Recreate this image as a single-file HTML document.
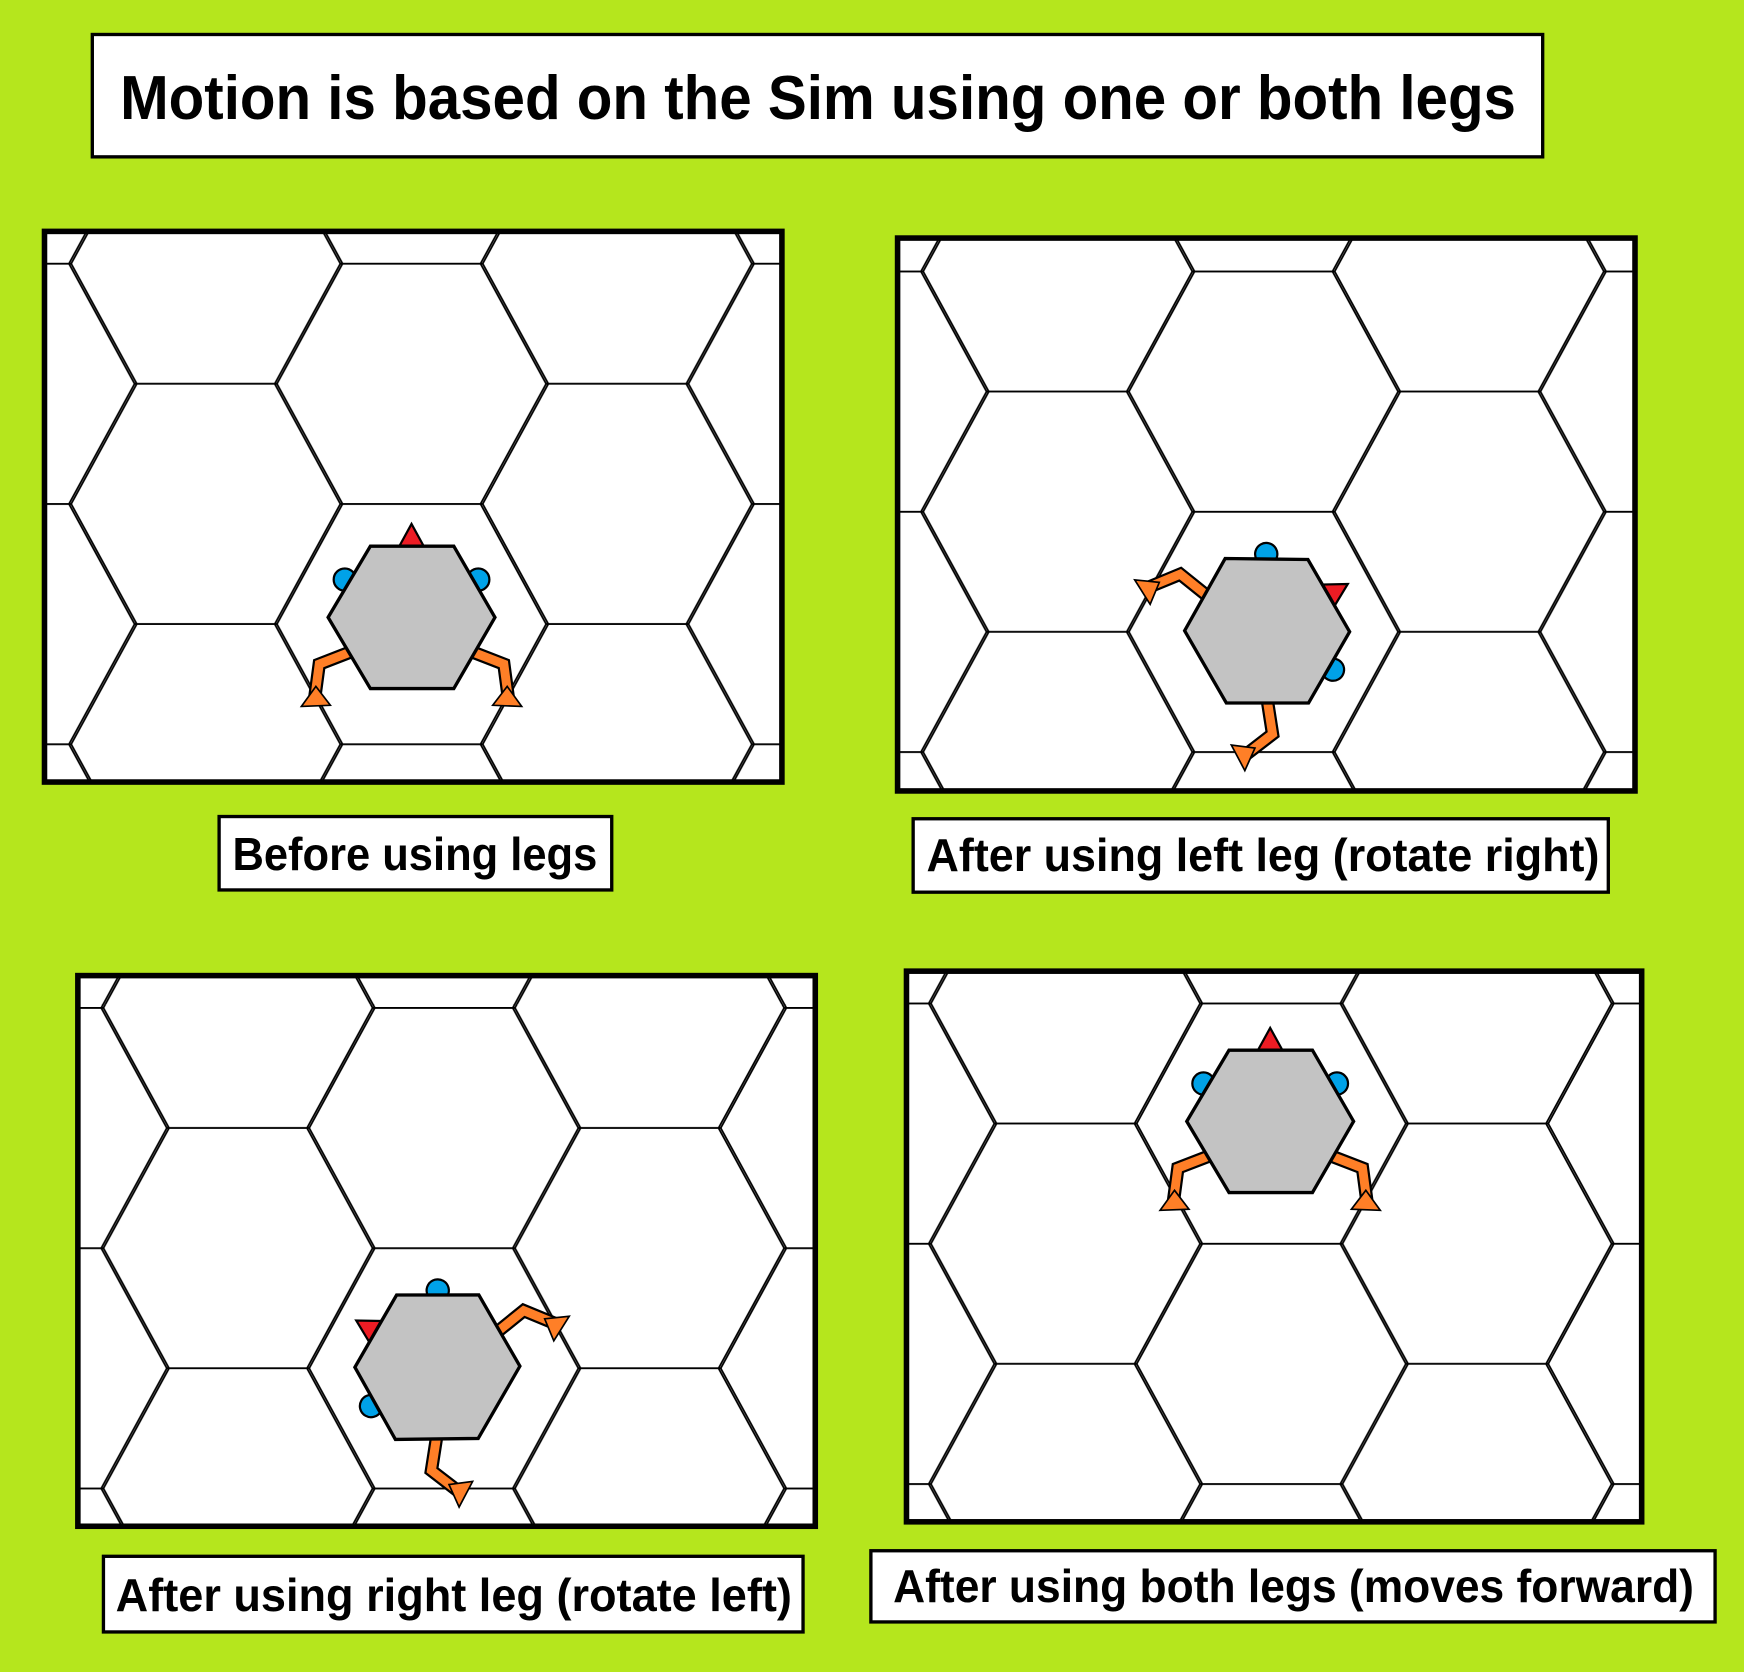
<!DOCTYPE html>
<html><head><meta charset="utf-8"><style>
html,body{margin:0;padding:0;background:#b5e61d;}
svg{display:block;}
text{font-family:"Liberation Sans",sans-serif;font-weight:bold;fill:#000;}
</style></head><body>
<svg width="1744" height="1672" viewBox="0 0 1568 1503" preserveAspectRatio="none" xmlns="http://www.w3.org/2000/svg">
<defs>
<g id="tile" fill="none" stroke="#000" stroke-width="1.6">
<polygon id="hx" points="-123,0 -64,-108 64,-108 123,0 64,108 -64,108" transform="translate(0,54)"/>
<use href="#hx" transform="translate(370,0)"/>
<use href="#hx" transform="translate(0,-216)"/>
<use href="#hx" transform="translate(370,-216)"/>
<use href="#hx" transform="translate(0,216)"/>
<use href="#hx" transform="translate(370,216)"/>
<use href="#hx" transform="translate(185,108)"/>
<use href="#hx" transform="translate(185,-108)"/>
<use href="#hx" transform="translate(185,324)"/>
</g>
<pattern id="p1" patternUnits="userSpaceOnUse" width="370" height="216" x="370" y="291"><use href="#tile"/></pattern>
<pattern id="p2" patternUnits="userSpaceOnUse" width="370" height="216" x="1136" y="298"><use href="#tile"/></pattern>
<pattern id="p3" patternUnits="userSpaceOnUse" width="370" height="216" x="399" y="960"><use href="#tile"/></pattern>
<pattern id="p4" patternUnits="userSpaceOnUse" width="370" height="216" x="1143" y="956"><use href="#tile"/></pattern>
<g id="sim">
<g stroke="#000" stroke-width="2">
<circle cx="-60" cy="-34" r="10" fill="#00a2e8"/>
<circle cx="60" cy="-34" r="10" fill="#00a2e8"/>
<polygon points="0,-84 -11,-64 11,-64" fill="#ed1c24"/>
</g>
<g fill="none" stroke-linejoin="miter">
<polyline points="-52,30 -83,42 -87,72" stroke="#000" stroke-width="12"/>
<polyline points="52,30 83,42 87,72" stroke="#000" stroke-width="12"/>
<polyline points="-52,30 -83,42 -87,72" stroke="#ff7f27" stroke-width="8"/>
<polyline points="52,30 83,42 87,72" stroke="#ff7f27" stroke-width="8"/>
</g>
<polygon points="-99,80 -73,79 -86,62" fill="#ff7f27" stroke="#000" stroke-width="1.5"/>
<polygon points="99,80 73,79 86,62" fill="#ff7f27" stroke="#000" stroke-width="1.5"/>
<polygon points="-75,0 -37,-64 38,-64 75,0 38,64 -37,64" fill="#c3c3c3" stroke="#000" stroke-width="3"/>
</g>
</defs>
<rect width="1568" height="1503" fill="#b5e61d"/>
<rect x="83" y="31" width="1304" height="110" fill="#fff" stroke="#000" stroke-width="3"/>
<text x="108" y="107" font-size="56" textLength="1255" lengthAdjust="spacingAndGlyphs">Motion is based on the Sim using one or both legs</text>
<rect x="40" y="208" width="663" height="495" fill="#fff"/>
<rect x="40" y="208" width="663" height="495" fill="url(#p1)"/>
<rect x="40" y="208" width="663" height="495" fill="none" stroke="#000" stroke-width="5"/>
<use href="#sim" transform="translate(370,555)"/>
<rect x="807" y="214" width="663" height="497" fill="#fff"/>
<rect x="807" y="214" width="663" height="497" fill="url(#p2)"/>
<rect x="807" y="214" width="663" height="497" fill="none" stroke="#000" stroke-width="5"/>
<use href="#sim" transform="translate(1139,567) rotate(60)"/>
<rect x="70" y="877" width="663" height="495" fill="#fff"/>
<rect x="70" y="877" width="663" height="495" fill="url(#p3)"/>
<rect x="70" y="877" width="663" height="495" fill="none" stroke="#000" stroke-width="5"/>
<use href="#sim" transform="translate(393,1229) rotate(-60)"/>
<rect x="815" y="873" width="661" height="495" fill="#fff"/>
<rect x="815" y="873" width="661" height="495" fill="url(#p4)"/>
<rect x="815" y="873" width="661" height="495" fill="none" stroke="#000" stroke-width="5"/>
<use href="#sim" transform="translate(1142,1008)"/>
<rect x="197" y="734" width="353" height="66" fill="#fff" stroke="#000" stroke-width="3"/>
<text x="209" y="782" font-size="42" textLength="328" lengthAdjust="spacingAndGlyphs">Before using legs</text>
<rect x="821" y="736" width="625" height="66" fill="#fff" stroke="#000" stroke-width="3"/>
<text x="833" y="783" font-size="42" textLength="605" lengthAdjust="spacingAndGlyphs">After using left leg (rotate right)</text>
<rect x="93" y="1399" width="629" height="68" fill="#fff" stroke="#000" stroke-width="3"/>
<text x="104" y="1448" font-size="42" textLength="608" lengthAdjust="spacingAndGlyphs">After using right leg (rotate left)</text>
<rect x="783" y="1394" width="759" height="64" fill="#fff" stroke="#000" stroke-width="3"/>
<text x="803" y="1440" font-size="42" textLength="720" lengthAdjust="spacingAndGlyphs">After using both legs (moves forward)</text>
</svg>
</body></html>
